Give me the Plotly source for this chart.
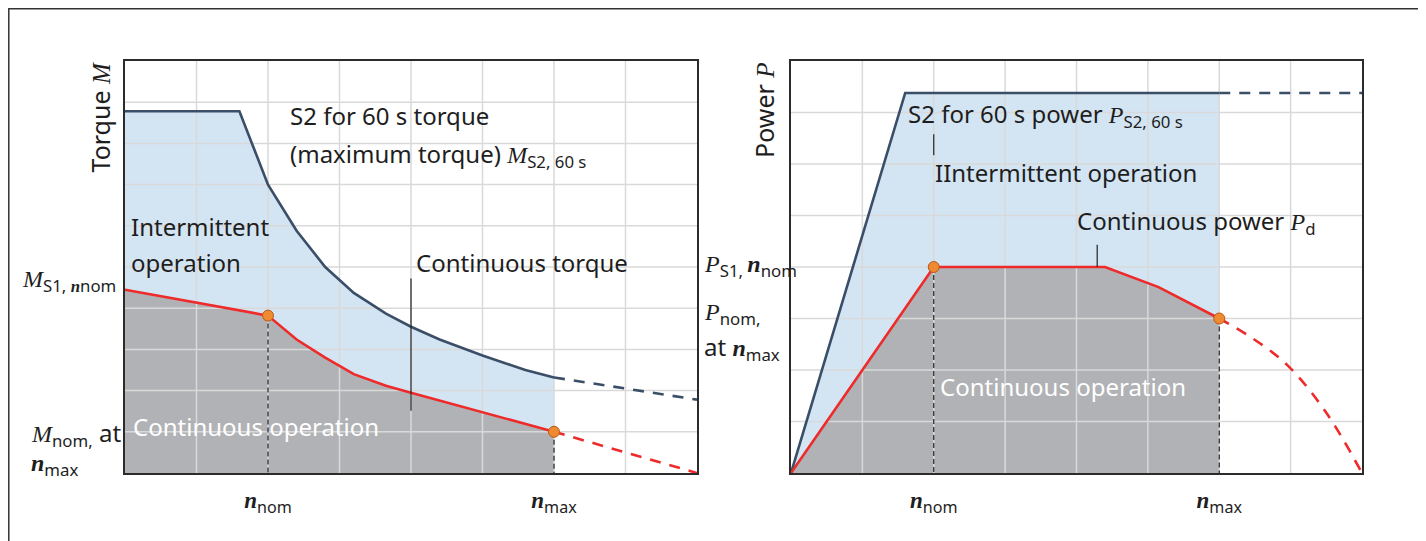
import plotly.graph_objects as go

# the page body adds an 8px margin, so the figure is drawn 8px in
OFF = 8
W, H = 1426 - OFF, 541 - OFF

# ---- left panel: torque vs speed (grid units, 8 x 10) ----
m_s2_x = [0, 1.6, 2.0, 2.4, 2.8, 3.2, 3.65, 4.0, 4.4, 5.0, 5.6, 6.0]
m_s2_y = [8.78, 8.78, 7.0, 5.88, 5.0, 4.37, 3.87, 3.55, 3.24, 2.85, 2.5, 2.32]
m_s2_ext_x = [6.0, 8.0]
m_s2_ext_y = [2.32, 1.78]

m_s1_x = [0, 2.0, 2.4, 2.8, 3.2, 3.65, 4.0, 5.0, 6.0]
m_s1_y = [4.45, 3.82, 3.24, 2.8, 2.4, 2.12, 1.95, 1.47, 1.0]
m_s1_ext_x = [6.0, 8.0]
m_s1_ext_y = [1.0, 0.0]

m_pts_x = [2.0, 6.0]
m_pts_y = [3.82, 1.0]
m_pointer_x = [4.0, 4.0]
m_pointer_y = [4.72, 1.51]

# ---- right panel: power vs speed (grid units, 8 x 8) ----
p_s2_x = [0, 1.6, 6.0]
p_s2_y = [0, 7.38, 7.38]
p_s2_ext_x = [6.0, 8.0]
p_s2_ext_y = [7.38, 7.38]

p_s1_x = [0, 2.0, 4.4, 5.15, 6.0]
p_s1_y = [0, 4.0, 4.0, 3.61, 3.0]
p_s1_ext_x = [6.0, 6.45, 6.95, 7.5, 8.0]
p_s1_ext_y = [3.0, 2.63, 2.1, 1.17, 0.0]

p_pts_x = [2.0, 6.0]
p_pts_y = [4.0, 3.0]
p_pointer1_x = [2.0, 2.0]
p_pointer1_y = [6.58, 6.17]
p_pointer2_x = [4.29, 4.29]
p_pointer2_y = [4.43, 4.0]

speed_ticks = [2, 6]
SERIF = "font-family:'Liberation Serif'"


def it(s, bold=False):
    s = "<i>%s</i>" % s
    if bold:
        s = "<b>%s</b>" % s
    return "<span style=\"%s\">%s</span>" % (SERIF, s)


speed_labels = [it("n", True) + "<sub>nom</sub>", it("n", True) + "<sub>max</sub>"]

BLUE_LINE = "#3b4e68"
BLUE_FILL = "#d3e5f3"
GREY_FILL = "#b1b2b5"
RED = "#ee2a2a"
GRID = "#d9d9d9"
ORANGE = "#f08a30"
TEXT = "#1e1e1e"
FS = 24


def px(x):
    return (x - OFF) / W


def py(y):
    return 1 - (y - OFF) / H


def grid_xy(nx, ny):
    gx, gy = [], []
    for i in range(1, nx):
        gx += [i, i, None]
        gy += [0, ny, None]
    for j in range(1, ny):
        gx += [0, nx, None]
        gy += [j, j, None]
    return gx, gy


fig = go.Figure()


def panel(xa, ya, nx, ny, s2x, s2y, s2ex, s2ey, s1x, s1y, s1ex, s1ey,
          ptx, pty, spline_ext=False):
    kw = dict(xaxis=xa, yaxis=ya, showlegend=False, hoverinfo="skip")
    fig.add_trace(go.Scatter(x=s2x, y=s2y, mode="lines", fill="tozeroy",
                             fillcolor=BLUE_FILL, line=dict(width=0), **kw))
    fig.add_trace(go.Scatter(x=s1x, y=s1y, mode="lines", fill="tozeroy",
                             fillcolor=GREY_FILL, line=dict(width=0), **kw))
    gx, gy = grid_xy(nx, ny)
    fig.add_trace(go.Scatter(x=gx, y=gy, mode="lines",
                             line=dict(color=GRID, width=1.5), **kw))
    for x0, y0 in zip(ptx, pty):
        fig.add_trace(go.Scatter(x=[x0, x0], y=[y0, 0], mode="lines",
                                 line=dict(color="#222", width=1.2,
                                           dash="5px,3px"), **kw))
    fig.add_trace(go.Scatter(x=s2x, y=s2y, mode="lines",
                             line=dict(color=BLUE_LINE, width=2.6), **kw))
    fig.add_trace(go.Scatter(x=s2ex, y=s2ey, mode="lines", cliponaxis=False,
                             line=dict(color=BLUE_LINE, width=2.6,
                                       dash="11px,9px"), **kw))
    fig.add_trace(go.Scatter(x=s1x, y=s1y, mode="lines",
                             line=dict(color=RED, width=2.6), **kw))
    fig.add_trace(go.Scatter(x=s1ex, y=s1ey, mode="lines", cliponaxis=False,
                             line=dict(color=RED, width=2.6, dash="11px,9px",
                                       shape="spline" if spline_ext else "linear"),
                             **kw))
    fig.add_trace(go.Scatter(x=ptx, y=pty, mode="markers", cliponaxis=False,
                             marker=dict(size=11, color=ORANGE,
                                         line=dict(color="#b8581a", width=1)),
                             **kw))


panel("x", "y", 8, 10, m_s2_x, m_s2_y, m_s2_ext_x, m_s2_ext_y,
      m_s1_x, m_s1_y, m_s1_ext_x, m_s1_ext_y, m_pts_x, m_pts_y)
fig.add_trace(go.Scatter(x=m_pointer_x, y=m_pointer_y, mode="lines",
                         xaxis="x", yaxis="y", showlegend=False,
                         line=dict(color="#222", width=1.2)))

panel("x2", "y2", 8, 8, p_s2_x, p_s2_y, p_s2_ext_x, p_s2_ext_y,
      p_s1_x, p_s1_y, p_s1_ext_x, p_s1_ext_y, p_pts_x, p_pts_y,
      spline_ext=True)
for ppx, ppy in [(p_pointer1_x, p_pointer1_y), (p_pointer2_x, p_pointer2_y)]:
    fig.add_trace(go.Scatter(x=ppx, y=ppy, mode="lines", xaxis="x2",
                             yaxis="y2", showlegend=False,
                             line=dict(color="#222", width=1.2)))

axis_common = dict(showgrid=False, zeroline=False, showline=True, mirror=True,
                   linecolor="#2b2b2b", linewidth=1.6, ticks="",
                   fixedrange=True)
xcommon = dict(axis_common, range=[0, 8], tickmode="array",
               tickvals=speed_ticks, ticktext=speed_labels,
               tickfont=dict(size=23, color=TEXT, family="Noto Sans"),
               ticklabelstandoff=6)
ycommon = dict(axis_common, showticklabels=False)

fig.update_layout(
    width=W, height=H,
    margin=dict(l=0, r=0, t=0, b=0),
    paper_bgcolor="white", plot_bgcolor="white",
    font=dict(family="Noto Sans", size=FS, color=TEXT),
    xaxis=dict(xcommon, domain=[px(125), px(697)], anchor="y"),
    yaxis=dict(ycommon, domain=[py(473), py(61)], range=[0, 10], anchor="x"),
    xaxis2=dict(xcommon, domain=[px(791), px(1362)], anchor="y2"),
    yaxis2=dict(ycommon, domain=[py(473), py(61)], range=[0, 8], anchor="x2"),
)

# outer frame (left/top edges as close to the page corner as the svg allows)
fig.add_shape(type="rect", xref="paper", yref="paper",
              x0=0.8 / W, x1=px(1419), y0=py(560), y1=1 - 0.8 / H,
              line=dict(color="#333", width=1.5), layer="above")

M = it("M")
P = it("P")
n_it = it("n", True)
labels = [
    # (text, x px, y px, color)
    ("S2 for 60 s torque", 288, 115, TEXT),
    ("(maximum torque) " + M + "<sub>S2, 60 s</sub>", 288, 155, TEXT),
    ("Intermittent", 129, 226, TEXT),
    ("operation", 129, 262, TEXT),
    ("Continuous torque", 414, 263, TEXT),
    ("Continuous operation", 131, 426, "white"),
    (M + "<sub>S1, " + n_it + "nom</sub>", 20, 281, TEXT),
    (M + "<sub>nom,</sub> at", 29, 434, TEXT),
    (n_it + "<sub>max</sub>", 29, 465, TEXT),
    ("S2 for 60 s power " + P + "<sub>S2, 60 s</sub>", 906, 115, TEXT),
    ("IIntermittent operation", 933, 172, TEXT),
    ("Continuous power " + P + "<sub>d</sub>", 1075, 222, TEXT),
    ("Continuous operation", 938, 386, "white"),
    (P + "<sub>S1, </sub>" + n_it + "<sub>nom</sub>", 702, 266, TEXT),
    (P + "<sub>nom,</sub>", 702, 314, TEXT),
    ("at " + n_it + "<sub>max</sub>", 702, 348, TEXT),
]
for txt, x0, y0, col in labels:
    fig.add_annotation(text=txt, x=px(x0), y=py(y0), xref="paper",
                       yref="paper", xanchor="left", yanchor="middle",
                       showarrow=False, font=dict(color=col, size=FS))

for txt, x0 in [("Torque " + M, 100), ("Power " + P, 764)]:
    fig.add_annotation(text=txt, x=px(x0), y=py(60), xref="paper",
                       yref="paper", xanchor="center", yanchor="top",
                       textangle=-90, showarrow=False,
                       font=dict(size=25, color=TEXT))

fig.write_html("out.html")
